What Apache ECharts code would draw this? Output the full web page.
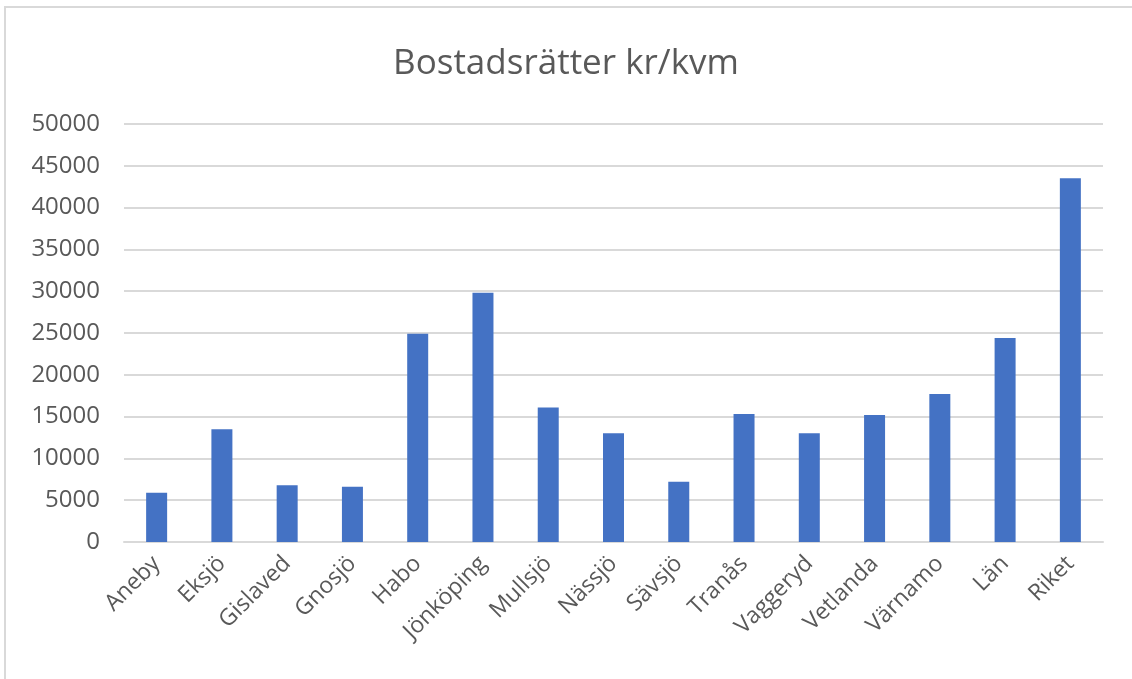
<!DOCTYPE html>
<html>
<head>
<meta charset="utf-8">
<script src="https://cdn.jsdelivr.net/npm/echarts@6/dist/echarts.min.js"></script>
<style>
html,body{margin:0;padding:0;background:#fff;}
#frame{position:absolute;left:0;top:0;width:1132px;height:679px;overflow:hidden;}
#border{position:absolute;left:4px;top:6px;width:1200px;height:800px;border-left:2px solid #d9d9d9;border-top:2px solid #d9d9d9;}
#chart{position:absolute;left:0;top:0;width:1132px;height:679px;}
</style>
</head>
<body>
<div id="frame"><div id="border"></div><div id="chart"></div></div>
<script>
const titleText = "Bostadsrätter kr/kvm";
const categories = ["Aneby","Eksjö","Gislaved","Gnosjö","Habo","Jönköping","Mullsjö","Nässjö","Sävsjö","Tranås","Vaggeryd","Vetlanda","Värnamo","Län","Riket"];
const values = [5900,13500,6800,6600,24900,29800,16100,13000,7200,15300,13000,15200,17700,24400,43500];
const yMin = 0, yMax = 50000, yInterval = 5000;

const chart = echarts.init(document.getElementById('chart'), null, {renderer:'canvas'});
chart.setOption({
  backgroundColor: 'transparent',
  animation: false,
  title: {
    text: titleText, left: 'center', top: 42,
    textStyle: {fontFamily: 'Open Sans', fontSize: 35, fontWeight: 'normal', color: '#595959'}
  },
  grid: {left: 124, right: 29, top: 124, bottom: 137, containLabel: false},
  xAxis: {
    type: 'category', data: categories,
    axisLine: {lineStyle: {color: '#d9d9d9', width: 2}},
    axisTick: {show: false},
    axisLabel: {rotate: 45, interval: 0, margin: 18, fontFamily: 'Open Sans', fontSize: 23, color: '#595959'}
  },
  yAxis: {
    type: 'value', min: yMin, max: yMax, interval: yInterval,
    axisLine: {show: false}, axisTick: {show: false},
    splitLine: {lineStyle: {color: '#d9d9d9', width: 2}},
    axisLabel: {margin: 24, fontFamily: 'Open Sans', fontSize: 24, color: '#595959', formatter: v => String(v)}
  },
  series: [{
    type: 'bar', data: values, barWidth: 21,
    itemStyle: {color: '#4472C4'}
  }]
});
</script>
</body>
</html>
